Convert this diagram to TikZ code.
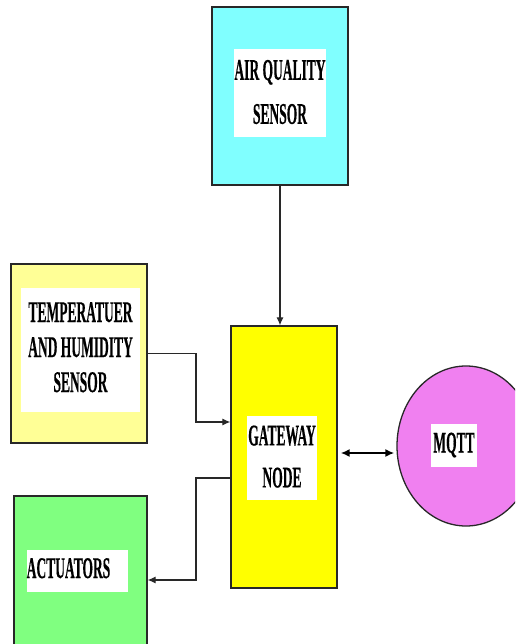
\documentclass[tikz,border=0pt]{standalone}
\usepackage{fontspec}
\setmainfont{Liberation Serif}[BoldFeatures={FakeBold=0.6}]
\usepackage{graphicx}
\usetikzlibrary{arrows.meta,shapes.geometric}
\definecolor{aqc}{RGB}{128,255,255}
\definecolor{tempc}{RGB}{255,255,150}
\definecolor{actc}{RGB}{128,255,128}
\definecolor{gwc}{RGB}{255,255,0}
\definecolor{mqc}{RGB}{240,128,240}
\definecolor{linec}{RGB}{40,40,40}
\newcommand\lbl[2]{\scalebox{0.45}[1]{\fontsize{30}{#1}\selectfont\bfseries\begin{tabular}{@{}c@{}}#2\end{tabular}}}
\tikzset{
  block/.style={rectangle, draw=linec, line width=1.3pt, inner sep=0pt},
  tag/.style={rectangle, fill=white, inner sep=0pt},
  conn/.style={draw=linec, line width=1.1pt},
  tip/.style={-{Latex[length=8pt,width=7pt]}},
}
\begin{document}
\begin{tikzpicture}[x=1pt,y=-1pt]
\useasboundingbox (0,0) rectangle (515,644);
\clip (0,0) rectangle (515,644);
\fill[white] (0,0) rectangle (515,644);
% blocks
\node[block, fill=aqc, minimum width=136pt, minimum height=178pt] (aq) at (280,96) {};
\node[block, fill=tempc, minimum width=136pt, minimum height=179pt] (temp) at (79,353.5) {};
\node[block, fill=actc, minimum width=133pt, minimum height=158pt] (act) at (80.5,575) {};
\node[block, fill=gwc, minimum width=106pt, minimum height=262pt] (gw) at (284,457) {};
\node[ellipse, draw=linec, line width=1.3pt, fill=mqc, minimum width=138pt, minimum height=160pt, inner sep=0pt] (mq) at (466,446) {};
% labels
\node[tag, minimum width=92pt, minimum height=84pt] (aqt) at (280,93) {\lbl{44pt}{AIR QUALITY\\SENSOR}};
\node[tag, minimum width=119pt, minimum height=124pt] (tempt) at (80.5,350) {\lbl{35pt}{TEMPERATUER\\AND HUMIDITY\\SENSOR}};
\node[tag, minimum width=101pt, minimum height=42pt] (actt) at (77.5,571) {\lbl{35pt}{ACTUATORS}\kern18pt};
\node[tag, minimum width=70pt, minimum height=82pt] (gwt) at (282,458) {\lbl{42pt}{GATEWAY\\NODE}};
\node[tag, minimum width=46pt, minimum height=43pt] (mqt) at (454,445.5) {\lbl{35pt}{MQTT}};
% connectors
\draw[conn, tip] (aq.south) -- (aq.south |- gw.north);
\coordinate (t1) at (196,422);
\draw[conn, tip] (temp.east) -| (t1) -- (t1 -| gw.west);
\coordinate (a1) at (196,478);
\coordinate (a2) at (196,580);
\draw[conn, tip] (a1 -| gw.west) -- (a1) -- (a2) -- (a2 -| act.east);
\coordinate (m1) at (0,453);
\draw[draw=black, line width=1.8pt, {Latex[length=9pt,width=8pt]}-{Latex[length=9pt,width=8pt]}] ([xshift=3pt]gw.east |- m1) -- ([xshift=-2pt]mq.west |- m1);
\end{tikzpicture}
\end{document}
